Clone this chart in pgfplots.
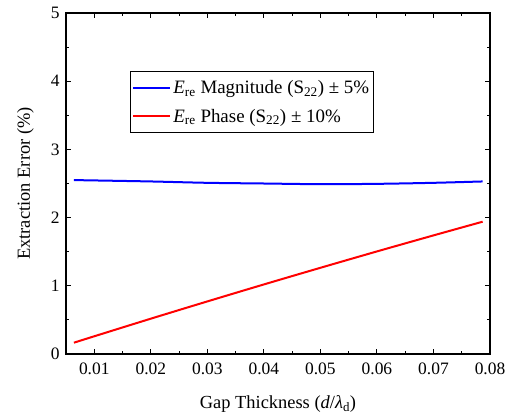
\documentclass[border=0pt]{standalone}
\usepackage{fontspec}
\setmainfont{Liberation Serif}
\usepackage{pgfplots}
\pgfplotsset{compat=1.18}
\begin{document}
\begin{tikzpicture}[x=1bp,y=1bp]
\begin{axis}[
  scale only axis,
  width=424bp, height=341bp,
  xmin=0.005, xmax=0.08,
  ymin=0, ymax=5,
  xtick={0.01,0.02,0.03,0.04,0.05,0.06,0.07,0.08},
  minor x tick num=1,
  ytick={0,1,2,3,4,5},
  minor y tick num=1,
  tick align=inside,
  xtick pos=both, ytick pos=both,
  major tick length=5bp, minor tick length=3bp,
  axis line style={line width=1.3bp},
  every tick/.style={line width=1bp, black},
  /pgf/number format/assume math mode=true,
  xticklabel style={font=\fontsize{17.5}{20}\selectfont, yshift=-5bp, /pgf/number format/fixed, /pgf/number format/precision=2, /pgf/number format/fixed zerofill},
  yticklabel style={font=\fontsize{17.5}{20}\selectfont, xshift=-3bp},
  scaled x ticks=false,
  xlabel={Gap Thickness (\textit{d}/\textit{λ}\textsubscript{d})},
  ylabel={Extraction Error (\%)},
  label style={font=\fontsize{18.5}{21}\selectfont},
  xlabel style={yshift=-14bp},
  ylabel style={yshift=10bp},
  legend style={at={(0.151,0.830)}, anchor=north west, draw=black, line width=0.8bp,
    font=\fontsize{19}{22}\selectfont, row sep=10bp, inner xsep=2bp, inner ysep=7bp},
  legend cell align=left,
  legend image code/.code={\draw[#1, line width=2bp] (0bp,0bp) -- (37bp,0bp);},
]
\addplot[blue, line width=2bp, smooth] coordinates {
(0.0064,2.55) (0.01,2.545) (0.02,2.53) (0.03,2.51) (0.04,2.50) (0.05,2.49) (0.06,2.495) (0.07,2.51) (0.0787,2.53)};
\addlegendentry{\textit{E}\textsubscript{re} Magnitude (S\textsubscript{22}) ± 5\%}
\addplot[red, line width=2bp, smooth] coordinates {
(0.0064,0.166) (0.01,0.260) (0.02,0.518) (0.03,0.771) (0.04,1.020) (0.05,1.264) (0.06,1.504) (0.07,1.739) (0.0787,1.940)};
\addlegendentry{\textit{E}\textsubscript{re} Phase (S\textsubscript{22}) ± 10\%}
\end{axis}
\useasboundingbox ([xshift=-66bp,yshift=-64bp]current axis.south west) rectangle ([xshift=29bp,yshift=13bp]current axis.north east);
\end{tikzpicture}
\end{document}
